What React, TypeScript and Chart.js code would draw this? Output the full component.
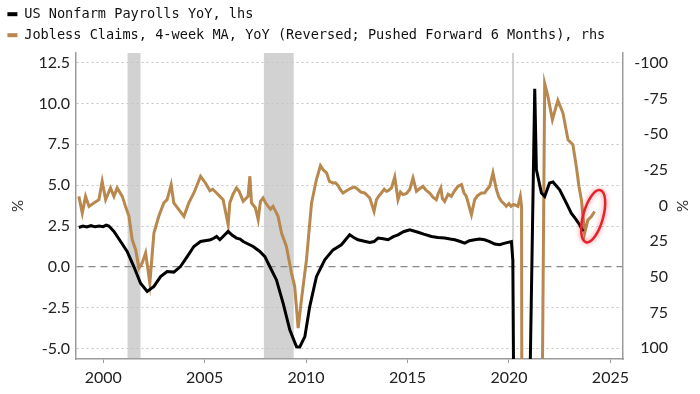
import React, { useEffect, useRef } from 'react';
import { Chart, registerables } from 'chart.js';

Chart.register(...registerables);

// ---- Data ----
const payrollYears = [
  1998.8, 1999.0, 1999.2, 1999.4, 1999.6, 1999.8, 2000.0, 2000.15, 2000.28, 2000.53, 2000.86,
  2001.18, 2001.51, 2001.84, 2002.17, 2002.5, 2002.83, 2003.15, 2003.48, 2003.81,
  2004.14, 2004.47, 2004.8, 2005.29, 2005.45, 2005.59, 2005.75, 2006.16, 2006.35, 2006.57,
  2006.75, 2006.9, 2007.39, 2007.72, 2007.97, 2008.21, 2008.54, 2008.87, 2009.2, 2009.53,
  2009.69, 2009.94, 2010.18, 2010.51, 2010.92, 2011.33, 2011.74, 2012.15, 2012.35, 2012.56,
  2013.14, 2013.35, 2013.55, 2013.8, 2014.04, 2014.3, 2014.53, 2014.8, 2015.11, 2015.52,
  2015.8, 2016.18, 2016.5, 2016.83, 2017.1, 2017.33, 2017.6, 2017.82, 2018.05, 2018.31,
  2018.55, 2018.8, 2019.05, 2019.3, 2019.54, 2019.8, 2020.12, 2020.19, 2020.26, 2020.5,
  2020.75, 2021.0, 2021.05, 2021.27, 2021.35, 2021.6, 2021.76, 2022.0, 2022.17, 2022.5,
  2022.83, 2023.07, 2023.32, 2023.48, 2023.65,
];
const payrollValues = [
  2.41, 2.5, 2.44, 2.52, 2.45, 2.5, 2.46, 2.55, 2.5, 2.17, 1.55,
  0.94, 0.02, -1.0, -1.51, -1.2, -0.6, -0.29, -0.32, 0.02,
  0.63, 1.25, 1.55, 1.66, 1.75, 1.86, 1.66, 2.17, 1.95, 1.76,
  1.7, 1.55, 1.25, 0.94, 0.63, 0.02, -0.8, -2.23, -3.87, -4.89,
  -4.9, -4.27, -2.43, -0.6, 0.43, 1.04, 1.35, 1.96, 1.8, 1.66,
  1.49, 1.55, 1.76, 1.72, 1.66, 1.85, 1.96, 2.15, 2.27, 2.12,
  2.0, 1.86, 1.8, 1.76, 1.7, 1.66, 1.55, 1.45, 1.6, 1.66,
  1.7, 1.66, 1.55, 1.4, 1.35, 1.45, 1.55, 0.4, -13.0, -9.0,
  -7.0, -6.2, -5.9, 10.9, 5.95, 4.52, 4.31, 5.13, 5.2, 4.72,
  3.9, 3.29, 2.88, 2.58, 2.17,
];

const claimsYears = [
  1998.8, 1998.97, 1999.13, 1999.3, 1999.54, 1999.79, 1999.95, 2000.12, 2000.36, 2000.53,
  2000.69, 2000.94, 2001.1, 2001.27, 2001.43, 2001.6, 2001.76, 2001.92, 2002.09, 2002.3,
  2002.5, 2002.74, 2002.99, 2003.15, 2003.35, 2003.48, 2003.73, 2003.98, 2004.22, 2004.47,
  2004.8, 2005.04, 2005.26, 2005.4, 2005.59, 2005.75, 2005.91, 2006.16, 2006.24, 2006.4,
  2006.57, 2006.7, 2006.9, 2007.0, 2007.14, 2007.23, 2007.31, 2007.5, 2007.64, 2007.75,
  2007.88, 2008.0, 2008.13, 2008.25, 2008.37, 2008.5, 2008.62, 2008.79, 2009.03, 2009.28,
  2009.44, 2009.61, 2009.77, 2010.02, 2010.27, 2010.51, 2010.71, 2010.85, 2011.01, 2011.15,
  2011.33, 2011.45, 2011.58, 2011.7, 2011.82, 2012.05, 2012.24, 2012.4, 2012.56, 2012.7,
  2012.89, 2013.14, 2013.35, 2013.47, 2013.6, 2013.71, 2013.85, 2013.96, 2014.05, 2014.21,
  2014.37, 2014.53, 2014.65, 2014.78, 2014.95, 2015.11, 2015.27, 2015.44, 2015.6, 2015.76,
  2015.9, 2016.09, 2016.25, 2016.42, 2016.5, 2016.64, 2016.72, 2016.83, 2017.0, 2017.16,
  2017.3, 2017.49, 2017.66, 2017.78, 2017.9, 2018.15, 2018.31, 2018.45, 2018.64, 2018.8,
  2018.9, 2019.05, 2019.21, 2019.38, 2019.5, 2019.63, 2019.75, 2019.87, 2020.0, 2020.1,
  2020.2, 2020.3, 2020.44, 2020.56, 2020.62, 2020.66, 2020.9, 2021.2, 2021.5, 2021.63,
  2021.76, 2021.92, 2022.14, 2022.41, 2022.66, 2022.91, 2023.15, 2023.32, 2023.45, 2023.57,
  2023.73, 2023.89, 2024.06, 2024.22,
];
const claimsValues = [
  -6.5, 5.2, -6.5, 0.5, -1.9, -4.2, -17, -4.2, -12.4, -6.5,
  -12.4, -6.5, 0.5, 7.5, 23.9, 30.9, 43.8, 40.3, 33.2, 54.3,
  19.2, 7.5, -1.9, -4.2, -14.7, -1.9, 2.8, 7.5, -1.9, -8.9,
  -20.6, -15.9, -10.5, -11.5, -8.9, -6.5, -4.2, 13.3, -1.9, -8,
  -12.4, -10, -3, -4.5, -6.5, -20.6, -1.9, 1.5, 9.8, -3,
  -5.4, -2, 0.5, 2.5, 0.5, 4, 7.5, 19.2, 28.6, 47.3,
  56.7, 85.9, 66, 37.9, -1.9, -18.3, -28.1, -25, -23, -17,
  -15.9, -16, -14, -11, -8.9, -11, -12.4, -13, -11.3, -9.5,
  -8.9, -5.4, 4, -4.2, -7, -8.9, -11.5, -10, -10.5, -12.4,
  -20.1, -4.2, -9.5, -7.7, -8.5, -11.3, -19.4, -10, -12, -13.6,
  -11, -8.9, -6, -4.2, -8, -12.4, -5, -3, -8, -6.5,
  -10, -13.6, -14.7, -9, -6.5, 6.3, -4.2, -7, -8.9, -8.9,
  -11, -13.6, -23, -11.3, -6, -3, -1.5, 0.5, -1.5, 0.5,
  -0.7, -0.5, 0.5, -6.5, 0.5, 400, 2500, 1800, 600, 150,
  -85.5, -76.6, -60.2, -73.8, -64.9, -46.2, -42.7, -27.4, -13.4, -4,
  19.3, 10, 7.6, 4.1,
];

const recessionStarts = [2001.2, 2007.92, 2020.15];
const recessionEnds = [2001.84, 2009.39, 2020.25];

const xTickValues = [2000, 2005, 2010, 2015, 2020, 2025];
const xTickLabels = ['2000', '2005', '2010', '2015', '2020', '2025'];
const leftTickValues = [-5, -2.5, 0, 2.5, 5, 7.5, 10, 12.5];
const leftTickLabels = ['-5.0', '-2.5', '0.0', '2.5', '5.0', '7.5', '10.0', '12.5'];
const rightTickValues = [-100, -75, -50, -25, 0, 25, 50, 75, 100];
const rightTickLabels = ['-100', '-75', '-50', '-25', '0', '25', '50', '75', '100'];

const seriesLabels = [
  'US Nonfarm Payrolls YoY, lhs',
  'Jobless Claims, 4-week MA, YoY (Reversed; Pushed Forward 6 Months), rhs',
];
const seriesColors = ['#000000', '#b8884e'];

const highlightYear = 2024.15;
const highlightValue = 3.1;

const AXIS_COLOR = '#9c9c9c';
const TICK_COLOR = '#222222';
const TICK_FONT = { family: 'Lato', size: 16 };

export default function App() {
  const canvasRef = useRef<HTMLCanvasElement | null>(null);

  useEffect(() => {
    if (!canvasRef.current) return;

    const legendHeightPlugin = {
      id: 'legendHeight',
      beforeInit(chart: any) {
        const legend = chart.legend;
        if (!legend) return;
        const origFit = legend.fit;
        legend.fit = function () {
          origFit.call(this);
          this.height = 53;
        };
      },
    };

    const recessionPlugin = {
      id: 'recessions',
      beforeDraw(chart: any) {
        const { ctx, chartArea, scales } = chart;
        const xs = scales.x;
        ctx.save();
        ctx.fillStyle = '#d2d2d2';
        recessionStarts.forEach((s, i) => {
          const x0 = xs.getPixelForValue(s);
          const x1 = xs.getPixelForValue(recessionEnds[i]);
          ctx.fillRect(x0, chartArea.top, Math.max(x1 - x0, 2), chartArea.bottom - chartArea.top);
        });
        ctx.restore();
      },
    };

    const highlightPlugin = {
      id: 'highlight',
      afterDatasetsDraw(chart: any) {
        const { ctx, scales } = chart;
        const cx = scales.x.getPixelForValue(highlightYear);
        const cy = scales.yLeft.getPixelForValue(highlightValue);
        ctx.save();
        ctx.beginPath();
        ctx.ellipse(cx, cy, 10, 27, 0.27, 0, Math.PI * 2);
        ctx.strokeStyle = '#e3242b';
        ctx.lineWidth = 2.5;
        ctx.shadowColor = 'rgba(225,40,50,0.6)';
        ctx.shadowBlur = 5;
        ctx.stroke();
        ctx.restore();
      },
    };

    const chart = new Chart(canvasRef.current, {
      type: 'line',
      data: {
        datasets: [
          {
            label: seriesLabels[0],
            data: payrollYears.map((x, i) => ({ x, y: payrollValues[i] })),
            borderColor: seriesColors[0],
            backgroundColor: seriesColors[0],
            borderWidth: 3,
            pointRadius: 0,
            tension: 0,
            yAxisID: 'yLeft',
            order: 1,
          },
          {
            label: seriesLabels[1],
            data: claimsYears.map((x, i) => ({ x, y: claimsValues[i] })),
            borderColor: seriesColors[1],
            backgroundColor: seriesColors[1],
            borderWidth: 3,
            pointRadius: 0,
            tension: 0,
            yAxisID: 'yRight',
            order: 2,
          },
        ],
      },
      options: {
        responsive: false,
        animation: false,
        layout: { padding: { left: 0, top: 0, bottom: 0, right: 32 } },
        plugins: {
          legend: {
            display: true,
            position: 'top',
            align: 'start',
            labels: {
              boxWidth: 10,
              boxHeight: 4,
              padding: 7.4,
              color: '#111',
              font: { family: 'DejaVu Sans Mono', size: 13.6 },
              generateLabels(chart: any) {
                return chart.data.datasets.map((ds: any, i: number) => ({
                  text: ds.label,
                  fillStyle: ds.borderColor,
                  strokeStyle: ds.borderColor,
                  lineWidth: 0,
                  hidden: false,
                  datasetIndex: i,
                  fontColor: '#111',
                }));
              },
            },
          },
          tooltip: { enabled: false },
        },
        scales: {
          x: {
            type: 'linear',
            min: 1998.66,
            max: 2025.62,
            afterBuildTicks: (scale: any) => {
              scale.ticks = xTickValues.map((v) => ({ value: v }));
            },
            afterFit: (scale: any) => {
              scale.height = 35;
            },
            ticks: {
              autoSkip: false,
              maxRotation: 0,
              padding: 5,
              color: TICK_COLOR,
              font: TICK_FONT,
              callback: (_v: any, i: number) => xTickLabels[i],
            },
            grid: {
              drawOnChartArea: false,
              drawTicks: true,
              tickLength: 4,
              color: AXIS_COLOR,
              lineWidth: 1,
            },
            border: { display: true, color: AXIS_COLOR, width: 1.5 },
          },
          yLeft: {
            type: 'linear',
            position: 'left',
            min: -5.64,
            max: 13.09,
            afterBuildTicks: (scale: any) => {
              scale.ticks = leftTickValues.map((v) => ({ value: v }));
            },
            afterFit: (scale: any) => {
              scale.width = 76;
            },
            ticks: {
              padding: 6,
              color: TICK_COLOR,
              font: TICK_FONT,
              callback: (_v: any, i: number) => leftTickLabels[i],
            },
            title: {
              display: true,
              text: '%',
              color: '#333',
              font: { family: 'Lato', size: 15 },
              padding: { top: 9.5, bottom: 0 },
            },
            grid: {
              drawTicks: false,
              color: (c: any) => (c.tick && c.tick.value === 0 ? '#8a8a8a' : '#c4c4c4'),
              lineWidth: (c: any) => (c.tick && c.tick.value === 0 ? 1.2 : 1),
            },
            border: {
              display: true,
              color: AXIS_COLOR,
              width: 1.5,
              dash: (c: any) => (c.tick ? (c.tick.value === 0 ? [7, 5] : [2, 3]) : []),
            },
          },
          yRight: {
            type: 'linear',
            position: 'right',
            reverse: true,
            min: -107,
            max: 107.5,
            afterBuildTicks: (scale: any) => {
              scale.ticks = rightTickValues.map((v) => ({ value: v }));
            },
            afterFit: (scale: any) => {
              scale.width = 45;
            },
            ticks: {
              padding: 4,
              crossAlign: 'far',
              color: TICK_COLOR,
              font: TICK_FONT,
              callback: (_v: any, i: number) => rightTickLabels[i],
            },
            title: {
              display: true,
              text: '%',
              color: '#333',
              font: { family: 'Lato', size: 15 },
              padding: { top: -23, bottom: 0 },
            },
            grid: { display: false, drawOnChartArea: false, drawTicks: false },
            border: { display: true, color: AXIS_COLOR, width: 1.5 },
          },
        },
      },
      plugins: [legendHeightPlugin, recessionPlugin, highlightPlugin],
    } as any);

    return () => chart.destroy();
  }, []);

  return (
    <div style={{ position: 'fixed', left: 0, top: 0, width: 700, height: 394, background: '#fff' }}>
      <canvas ref={canvasRef} width={700} height={394} />
    </div>
  );
}
